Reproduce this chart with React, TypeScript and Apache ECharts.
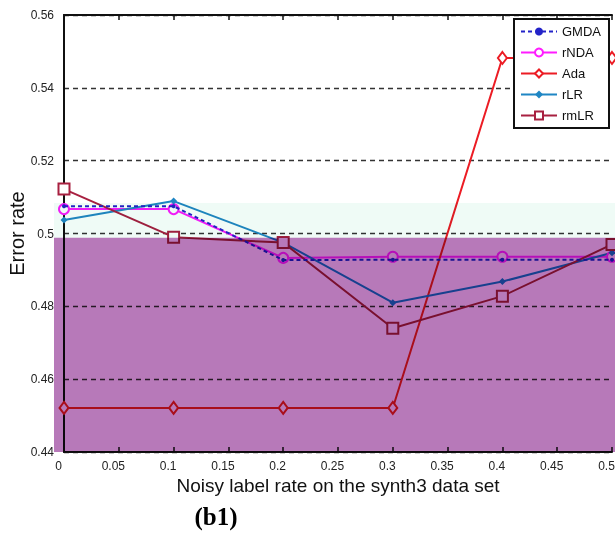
import React, { useEffect, useRef } from "react";
import * as echarts from "echarts";

const xValues = [0, 0.1, 0.2, 0.3, 0.4, 0.5];
const gmda = [0.5075, 0.5075, 0.4927, 0.4928, 0.4928, 0.4928];
const rnda = [0.5067, 0.5067, 0.4933, 0.4936, 0.4936, 0.4936];
const ada = [0.4521, 0.4521, 0.4521, 0.4521, 0.5482, 0.5482];
const rlr = [0.5037, 0.5089, 0.4975, 0.481, 0.4868, 0.4947];
const rmlr = [0.5122, 0.499, 0.4975, 0.474, 0.4828, 0.497];

const seriesNames = ["GMDA", "rNDA", "Ada", "rLR", "rmLR"];
const xTickLabels = ["0", "0.05", "0.1", "0.15", "0.2", "0.25", "0.3", "0.35", "0.4", "0.45", "0.5"];
const yTickLabels = ["0.44", "0.46", "0.48", "0.5", "0.52", "0.54", "0.56"];

// shaded bands (value ranges on the y axis)
const purpleBand = [0.44, 0.4988];
const mintBand = [0.4988, 0.5084];

const FONT = "Liberation Sans, Arial, sans-serif";
const PURPLE = "#b779b9";
const MINT = "#effbf6";

function pairs(ys: number[]) {
  return xValues.map((x, i) => [x, ys[i]]);
}

export default function App() {
  const ref = useRef<HTMLDivElement>(null);
  useEffect(() => {
    if (!ref.current) return;
    const chart = echarts.init(ref.current, null, { renderer: "svg" });
    const option: any = {
      animation: false,
      backgroundColor: "#fff",
      grid: { left: 64, right: 3, top: 15, bottom: 81, outerBoundsMode: "none", containLabel: false },
      legend: {
        data: seriesNames,
        orient: "vertical",
        left: 514,
        top: 19,
        itemWidth: 36,
        itemHeight: 10,
        itemGap: 8,
        padding: [6, 8, 6, 6],
        borderColor: "#111",
        borderWidth: 2,
        backgroundColor: "#fff",
        textStyle: { fontSize: 13, color: "#111", fontFamily: FONT },
      },
      xAxis: [
        {
          type: "value",
          min: 0,
          max: 0.5,
          interval: 0.05,
          position: "bottom",
          axisLine: { lineStyle: { color: "#111", width: 2 } },
          axisTick: { inside: true, length: 5, lineStyle: { color: "#111", width: 1.5 } },
          axisLabel: {
            fontSize: 12,
            color: "#222",
            fontFamily: FONT,
            margin: 8,
            padding: [0, 11, 0, 0],
            formatter: (v: number) => xTickLabels[Math.round(v / 0.05)] ?? "",
          },
          splitLine: { show: false },
          name: "Noisy label rate on the synth3 data set",
          nameLocation: "middle",
          nameGap: 24,
          nameMoveOverlap: false,
          nameTextStyle: { fontSize: 19, color: "#111", fontFamily: FONT },
        },
        {
          type: "value",
          min: 0,
          max: 0.5,
          interval: 0.05,
          position: "top",
          axisLine: { lineStyle: { color: "#111", width: 2 } },
          axisTick: { inside: true, length: 5, lineStyle: { color: "#111", width: 1.5 } },
          axisLabel: { show: false },
          splitLine: { show: false },
        },
      ],
      yAxis: [
        {
          type: "value",
          min: 0.44,
          max: 0.56,
          interval: 0.02,
          axisLine: { show: true, lineStyle: { color: "#111", width: 2 } },
          axisTick: { show: false },
          axisLabel: {
            fontSize: 12,
            color: "#222",
            fontFamily: FONT,
            margin: 10,
            formatter: (v: number) => yTickLabels[Math.round((v - 0.44) / 0.02)] ?? "",
          },
          splitLine: { show: true, lineStyle: { color: "#333", width: 1.4, type: [5, 4] } },
          name: "Error rate",
          nameLocation: "middle",
          nameGap: 37,
          nameMoveOverlap: false,
          nameTextStyle: { fontSize: 20, color: "#111", fontFamily: FONT },
        },
        {
          type: "value",
          min: 0.44,
          max: 0.56,
          interval: 0.02,
          position: "right",
          axisLine: { show: true, lineStyle: { color: "#111", width: 1.5 } },
          axisTick: { show: false },
          axisLabel: { show: false },
          splitLine: { show: false },
        },
      ],
      series: [
        {
          name: "GMDA",
          type: "line",
          data: pairs(gmda),
          symbol: "circle",
          symbolSize: 4,
          itemStyle: { color: "#2323c8" },
          lineStyle: { color: "#2323c8", width: 2, type: [4, 3] },
          z: 3,
        },
        {
          name: "rNDA",
          type: "line",
          data: pairs(rnda),
          symbol: "emptyCircle",
          symbolSize: 10,
          itemStyle: { color: "#ff1cff", borderWidth: 1.5 },
          lineStyle: { color: "#ff1cff", width: 2 },
          z: 2,
        },
        {
          name: "Ada",
          type: "line",
          data: pairs(ada),
          symbol: "emptyDiamond",
          symbolSize: [9, 12],
          itemStyle: { color: "#ec1c24", borderWidth: 1.5 },
          lineStyle: { color: "#ec1c24", width: 2 },
          z: 2,
        },
        {
          name: "rLR",
          type: "line",
          data: pairs(rlr),
          symbol: "diamond",
          symbolSize: 7,
          itemStyle: { color: "#1f86c4" },
          lineStyle: { color: "#1f86c4", width: 2 },
          z: 2,
        },
        {
          name: "rmLR",
          type: "line",
          data: pairs(rmlr),
          symbol: "emptyRect",
          symbolSize: 11,
          itemStyle: { color: "#a82040", borderWidth: 1.5 },
          lineStyle: { color: "#a82040", width: 2 },
          z: 2,
        },
      ],
    };
    chart.setOption(option);

    const p0 = chart.convertToPixel({ gridIndex: 0 }, [0, purpleBand[0]]) as number[];
    const p1 = chart.convertToPixel({ gridIndex: 0 }, [0, purpleBand[1]]) as number[];
    const m1 = chart.convertToPixel({ gridIndex: 0 }, [0, mintBand[1]]) as number[];
    const leftX = p0[0] - 10;
    const rightX = 615;

    chart.setOption({
      graphic: [
        {
          type: "rect",
          z: 100,
          silent: true,
          shape: { x: leftX, y: m1[1], width: rightX - leftX, height: p1[1] - m1[1] },
          style: { fill: MINT, blend: "multiply" },
        },
        {
          type: "rect",
          z: 100,
          silent: true,
          shape: { x: leftX, y: p1[1], width: rightX - leftX, height: p0[1] - p1[1] },
          style: { fill: PURPLE, blend: "multiply" },
        },
        {
          type: "text",
          x: 216,
          y: 516,
          style: {
            text: "(b1)",
            font: 'bold 25px "Liberation Serif", "Times New Roman", serif',
            fill: "#000",
            textAlign: "center",
            textVerticalAlign: "middle",
          },
        },
      ],
    });

    // make the shaded bands multiply over the plot (as in the reference)
    const applyBlend = () => {
      const root = ref.current;
      if (!root) return;
      root.querySelectorAll("path, rect").forEach((el) => {
        const f = (el.getAttribute("fill") || "").toLowerCase();
        if (f === PURPLE || f === MINT) {
          (el as SVGElement).style.mixBlendMode = "multiply";
        }
      });
    };
    applyBlend();
    chart.on("finished", applyBlend);

    return () => {
      chart.dispose();
    };
  }, []);

  return (
    <div
      ref={ref}
      style={{ position: "absolute", left: 0, top: 0, width: 615, height: 533 }}
    />
  );
}
